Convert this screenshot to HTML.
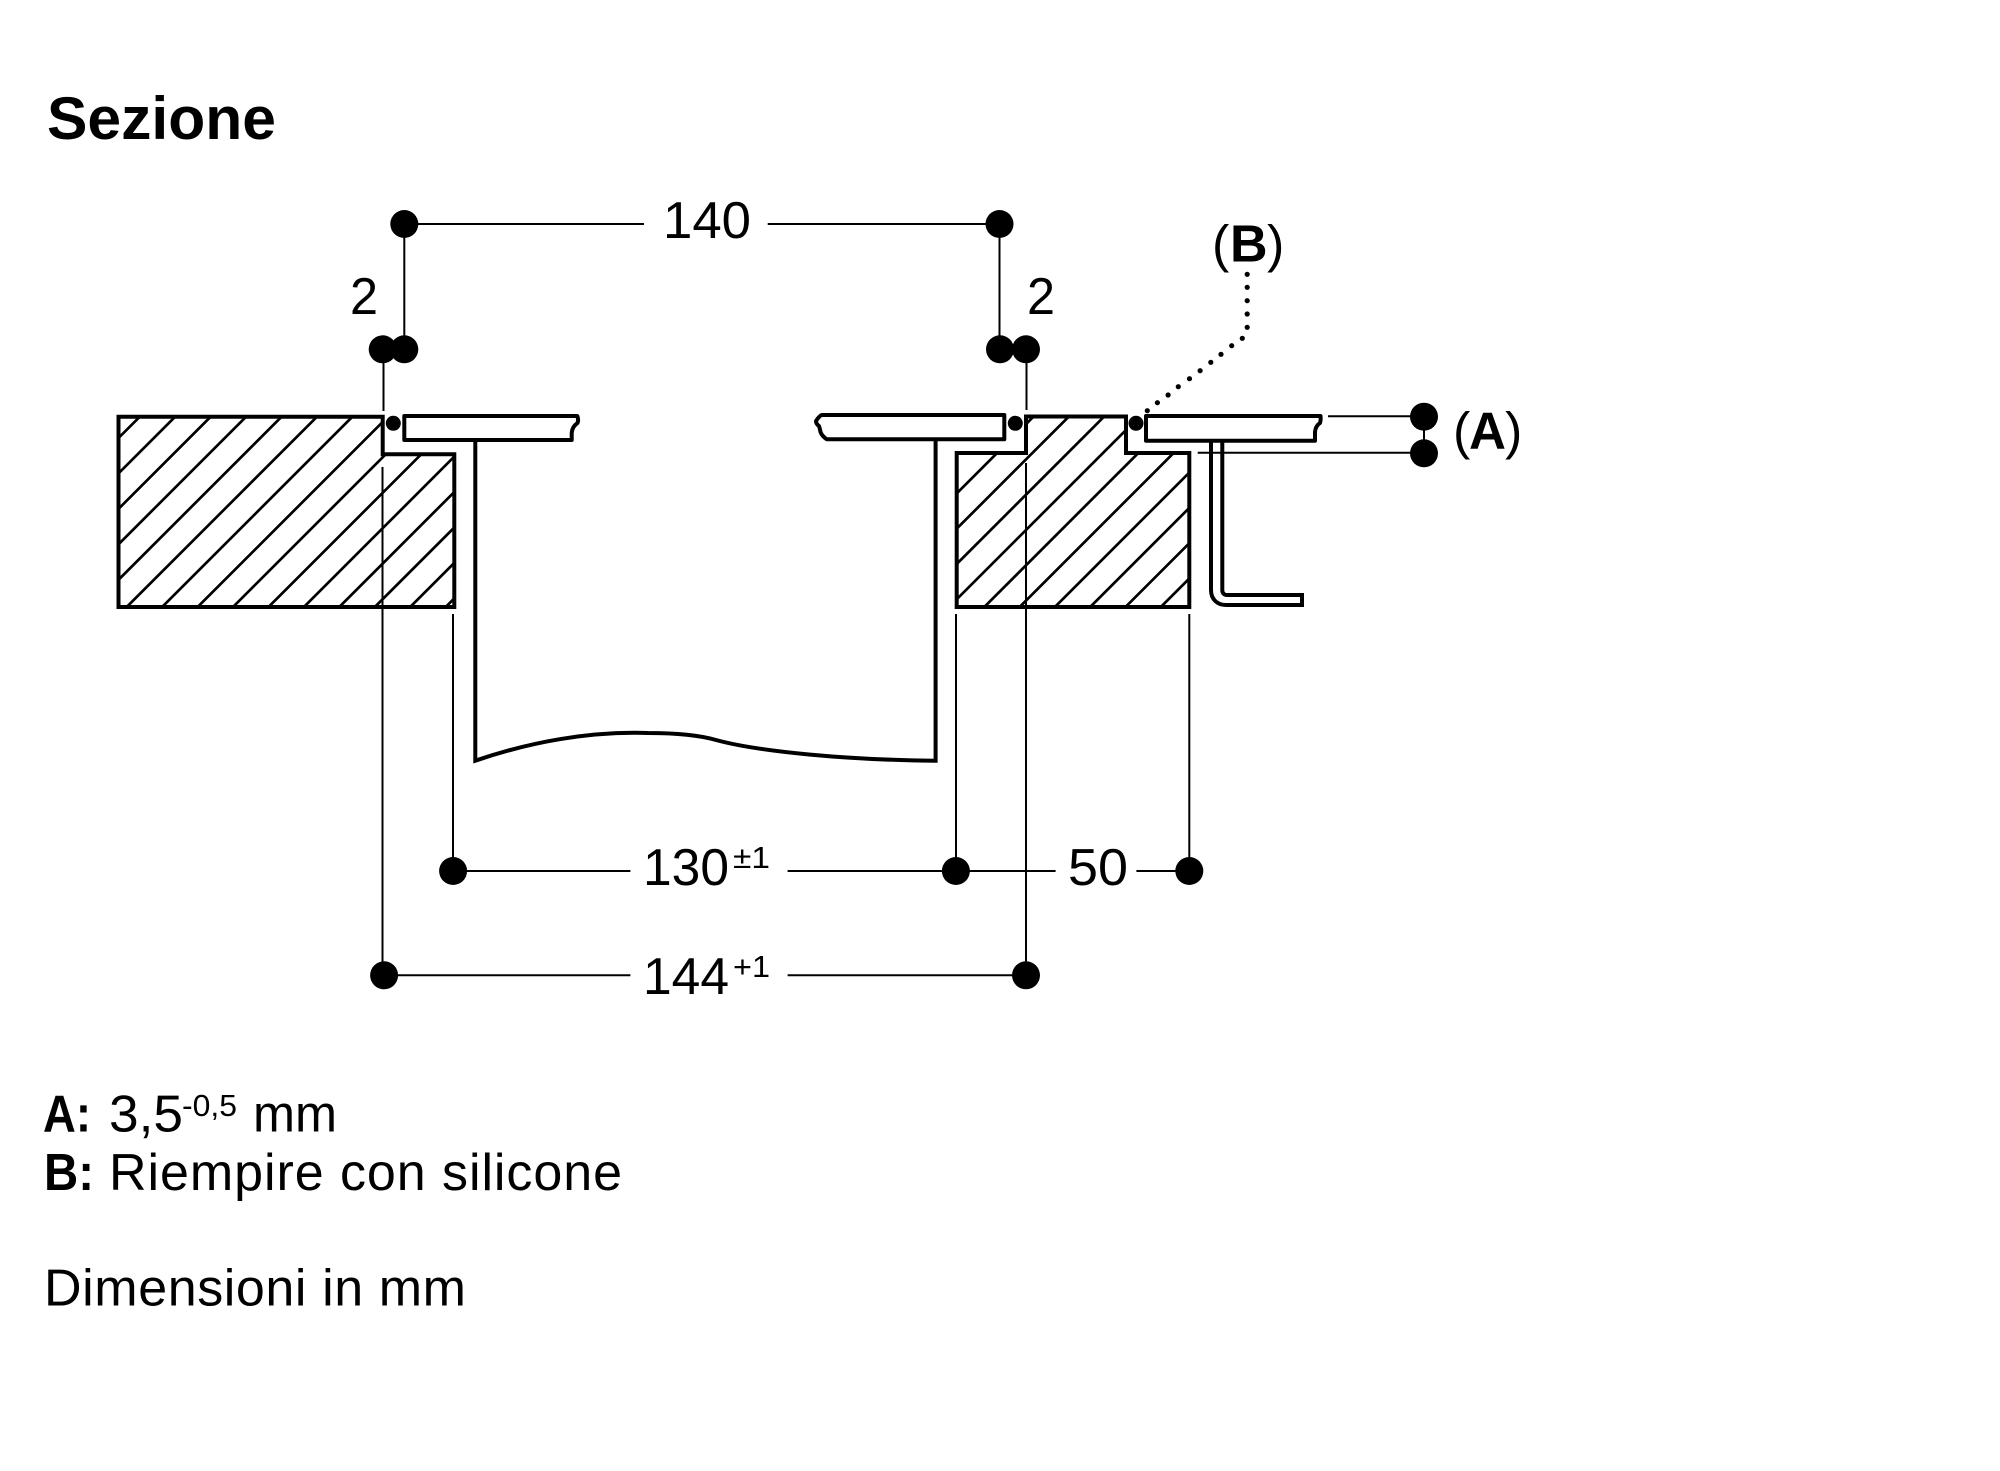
<!DOCTYPE html>
<html><head><meta charset="utf-8"><title>Sezione</title>
<style>
html,body{margin:0;padding:0;background:#fff}
svg{display:block}
text{font-family:"Liberation Sans",Arial,sans-serif;fill:#000}
.b{font-weight:700}
.d{font-size:52px}
.s{font-size:31px}
.o{fill:none;stroke:#000;stroke-width:4}
.h{fill:none;stroke:#000;stroke-width:2.7}
.t{fill:none;stroke:#000;stroke-width:2}
</style></head><body>
<svg xmlns="http://www.w3.org/2000/svg" width="2000" height="1471" viewBox="0 0 2000 1471">
<defs>
<clipPath id="cl"><path d="M118.5,416.7H382.7V454.3H454.3V607H118.5Z"/></clipPath>
<clipPath id="cr"><path d="M956.7,453H1026V416.5H1126V453H1189.3V607H956.7Z"/></clipPath>
</defs>

<text class="b" x="47" y="139" font-size="60" textLength="229" lengthAdjust="spacingAndGlyphs">Sezione</text>

<!-- hatching -->
<g clip-path="url(#cl)"><path class="h" d="M156.5,400L-63.5,620M191.9,400L-28.1,620M227.4,400L7.4,620M262.8,400L42.8,620M298.3,400L78.3,620M333.7,400L113.7,620M369.1,400L149.1,620M404.6,400L184.6,620M440,400L220,620M475.5,400L255.5,620M510.9,400L290.9,620M546.3,400L326.3,620M581.8,400L361.8,620M617.2,400L397.2,620M652.7,400L432.7,620"/></g>
<g clip-path="url(#cr)"><path class="h" d="M1050.1,400L830.1,620M1085.4,400L865.4,620M1120.7,400L900.7,620M1156,400L936,620M1191.3,400L971.3,620M1226.6,400L1006.6,620M1261.9,400L1041.9,620M1297.2,400L1077.2,620M1332.5,400L1112.5,620M1367.8,400L1147.8,620"/></g>

<!-- blocks -->
<path class="o" d="M118.5,416.7H382.7V454.3H454.3V607H118.5Z"/>
<path class="o" d="M956.7,453H1026V416.5H1126V453H1189.3V607H956.7Z"/>

<!-- plates -->
<path class="o" stroke-linejoin="round" d="M404.3,416H577.3Q578.8,420 577.5,423Q572,427 571.7,433V440H404.3Z"/>
<path class="o" stroke-linejoin="round" d="M1004.3,415H822Q820,415 816,421Q816,424 819,426Q820,429 820.5,432Q822,436 826.7,439.3H1004.3Z"/>
<path class="o" stroke-linejoin="round" d="M1146,416H1320.5Q1321,420 1320,423Q1315.5,426 1315,432V440.7H1146Z"/>

<!-- housing -->
<path class="o" d="M475.3,440V760.7C530,742 590,731 648,733C670,733 695,734 716,740C760,752 850,760 935.6,760.7V439"/>

<!-- bracket -->
<path d="M1211,441V590C1211,599 1217,605 1226,605H1302V595H1227C1224,595 1222.3,593 1222.3,590V441" fill="none" stroke="#000" stroke-width="4"/>

<!-- extension lines -->
<g class="t">
<path class="t" d="M404.3,224H644M767.7,224H999.5M404.3,224V349.3M999.5,224V349.3"/>
<path class="t" d="M383.5,349.3V411M382.5,467V975.3M453,614V871M956,614V871M1189.3,614V871M1026.5,349.3V410M1026,463V975.3"/>
<path class="t" d="M453,871H630.4M787.6,871H1055.6M1136.4,871H1189.3M384,975.3H630.4M787.6,975.3H1026"/>
<path class="t" d="M1328,416.3H1424M1197.7,452.8H1424M1424,416.3V453.3"/>
</g>

<!-- dots -->
<g fill="#000">
<circle cx="404.3" cy="224" r="14"/><circle cx="999.5" cy="224" r="14"/>
<circle cx="382.7" cy="349.3" r="14"/><circle cx="404.3" cy="349.3" r="14"/>
<circle cx="1000" cy="349.3" r="14"/><circle cx="1026" cy="349.3" r="14"/>
<circle cx="453.1" cy="871" r="14"/><circle cx="955.9" cy="871" r="14"/><circle cx="1189.3" cy="871" r="14"/>
<circle cx="384.1" cy="975.3" r="14"/><circle cx="1026" cy="975.3" r="14"/>
<circle cx="1424" cy="416.7" r="14"/><circle cx="1424" cy="453.3" r="14"/>
<circle cx="393.3" cy="423.3" r="7.5"/><circle cx="1015.3" cy="423.3" r="7.5"/><circle cx="1136" cy="423.3" r="7.5"/>
<circle cx="1247.2" cy="274.3" r="2.6"/><circle cx="1247.2" cy="287.3" r="2.6"/><circle cx="1247.2" cy="300.7" r="2.6"/><circle cx="1247.2" cy="314" r="2.6"/><circle cx="1247.2" cy="327.3" r="2.6"/>
<circle cx="1242.3" cy="338.3" r="2.6"/><circle cx="1231.7" cy="345.7" r="2.6"/><circle cx="1221" cy="354.3" r="2.6"/><circle cx="1210.8" cy="362.3" r="2.6"/><circle cx="1200.1" cy="370.7" r="2.6"/>
<circle cx="1189.5" cy="378.7" r="2.6"/><circle cx="1178.3" cy="386.7" r="2.6"/><circle cx="1168.1" cy="395" r="2.6"/><circle cx="1157.4" cy="402.7" r="2.6"/><circle cx="1147.3" cy="410.7" r="2.6"/>
</g>

<!-- dimension labels -->
<text class="d" x="663" y="238" textLength="88" lengthAdjust="spacingAndGlyphs">140</text>
<text class="d" x="350" y="314" textLength="28" lengthAdjust="spacingAndGlyphs">2</text>
<text class="d" x="1027" y="314" textLength="28" lengthAdjust="spacingAndGlyphs">2</text>
<text class="d" x="643" y="885" textLength="86" lengthAdjust="spacingAndGlyphs">130</text>
<text class="s" x="733" y="868" textLength="37" lengthAdjust="spacingAndGlyphs">±1</text>
<text class="d" x="1068" y="885" textLength="60" lengthAdjust="spacingAndGlyphs">50</text>
<text class="d" x="643" y="994" textLength="86" lengthAdjust="spacingAndGlyphs">144</text>
<text class="s" x="733" y="977" textLength="37" lengthAdjust="spacingAndGlyphs">+1</text>

<text class="d" x="1212" y="261.7">(</text>
<text class="d b" x="1230" y="261.7">B</text>
<text class="d" x="1267" y="261.7">)</text>
<text class="d" x="1453" y="448.5">(</text>
<text class="d b" x="1469" y="448.5" textLength="37" lengthAdjust="spacingAndGlyphs">A</text>
<text class="d" x="1505" y="448.5">)</text>

<!-- notes -->
<text class="d b" x="43" y="1131.7" textLength="48" lengthAdjust="spacingAndGlyphs">A:</text>
<text class="d" x="109" y="1131.7" textLength="74" lengthAdjust="spacingAndGlyphs">3,5</text>
<text class="s" x="182" y="1116" textLength="55" lengthAdjust="spacingAndGlyphs">-0,5</text>
<text class="d" x="253" y="1131.7" textLength="84" lengthAdjust="spacingAndGlyphs">mm</text>
<text class="d b" x="44" y="1190" textLength="50" lengthAdjust="spacingAndGlyphs">B:</text>
<text class="d" x="109" y="1190" textLength="513">Riempire con silicone</text>
<text class="d" x="44" y="1305.7" textLength="422">Dimensioni in mm</text>
</svg>
</body></html>
